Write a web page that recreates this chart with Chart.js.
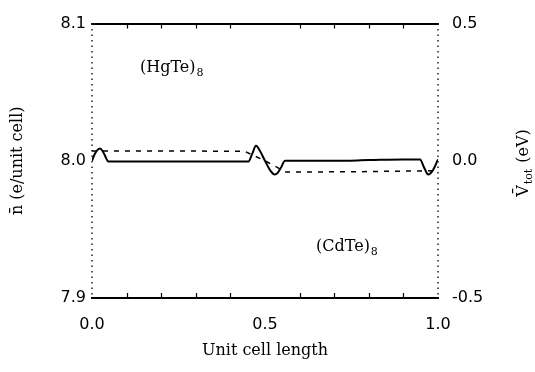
<!DOCTYPE html>
<html>
<head>
<meta charset="utf-8">
<script src="https://cdn.jsdelivr.net/npm/chart.js@4.4.1/dist/chart.umd.min.js"></script>
<style>
body { margin:0; background:#fff; }
#wrap { width:535px; height:372px; }
</style>
</head>
<body>
<div id="wrap"><canvas id="superChart" width="535" height="372"></canvas></div>
<script>
/* average charge n (left axis) */
const nX = [0, 0.008, 0.016, 0.023, 0.031, 0.039, 0.047, 0.1, 0.2, 0.3, 0.4, 0.452, 0.463, 0.474, 0.486, 0.5, 0.515, 0.528, 0.536, 0.546, 0.558, 0.6, 0.7, 0.8, 0.9, 0.948, 0.96, 0.972, 0.985, 1.0];
const nY = [8.0, 8.005, 8.008, 8.009, 8.007, 8.003, 7.9995, 7.9995, 7.9995, 7.9995, 7.9995, 7.9995, 8.005, 8.011, 8.007, 8.0, 7.993, 7.99, 7.991, 7.995, 8.0, 8.0, 8.0, 8.0005, 8.001, 8.001, 7.995, 7.99, 7.993, 8.001];
/* average potential V tot (right axis, eV) */
const vX = [0, 0.44, 0.5, 0.56, 0.75, 1.0];
const vY = [0.036, 0.035, 0.0, -0.041, -0.04, -0.036];

const xTicks = [0, 0.5, 1.0];
const xMinor = [0.1, 0.2, 0.3, 0.4, 0.6, 0.7, 0.8, 0.9];
const nTicks = [7.9, 8.0, 8.1];
const vTicks = [-0.5, 0.0, 0.5];

const serif = "'DejaVu Serif', serif";
const sans = "'DejaVu Sans', sans-serif";

// dotted side frame, inward minor ticks on top / bottom, text bits
const extras = {
    id: 'extras',
    afterDraw(chart) {
        const ctx = chart.ctx;
        const a = chart.chartArea;
        const xs = chart.scales.x;
        ctx.save();
        ctx.strokeStyle = '#222';
        ctx.lineWidth = 1.5;
        ctx.setLineDash([1.5, 4]);
        ctx.beginPath();
        ctx.moveTo(a.left, a.top); ctx.lineTo(a.left, a.bottom);
        ctx.moveTo(a.right, a.top); ctx.lineTo(a.right, a.bottom);
        ctx.stroke();
        ctx.setLineDash([]);

        ctx.strokeStyle = '#000';
        ctx.lineWidth = 1.2;
        xMinor.forEach(v => {
            const px = Math.round(xs.getPixelForValue(v)) + 0.5;
            ctx.beginPath();
            ctx.moveTo(px, a.bottom); ctx.lineTo(px, a.bottom - 5);
            ctx.moveTo(px, a.top); ctx.lineTo(px, a.top + 5);
            ctx.stroke();
        });

        ctx.fillStyle = '#000';
        ctx.textBaseline = 'alphabetic';
        // (HgTe)8 and (CdTe)8
        const label = (txt, sub, x, y) => {
            ctx.font = '16px ' + serif;
            ctx.fillText(txt, x, y);
            const w = ctx.measureText(txt).width;
            ctx.font = '11px ' + serif;
            ctx.fillText(sub, x + w + 1, y + 4);
        };
        label('(HgTe)', '8', 140, 72);
        label('(CdTe)', '8', 316, 251);

        // right axis title, bottom-to-top
        ctx.translate(528, 163);
        ctx.rotate(-Math.PI / 2);
        const t1 = 'V\u0304';
        const t2 = 'tot';
        const t3 = ' (eV)';
        ctx.font = '11px ' + serif;
        const w2 = ctx.measureText(t2).width;
        ctx.font = '16px ' + serif;
        const w1 = ctx.measureText(t1).width;
        const w3 = ctx.measureText(t3).width;
        let x0 = -(w1 + w2 + w3 + 2) / 2;
        ctx.fillText(t1, x0, 0);
        ctx.font = '11px ' + serif;
        ctx.fillText(t2, x0 + w1 + 1, 4);
        ctx.font = '16px ' + serif;
        ctx.fillText(t3, x0 + w1 + w2 + 2, 0);
        ctx.restore();
    }
};

const solid = { display: true, color: '#000', width: 2 };

let ctxSuper = document.getElementById('superChart').getContext('2d');
let superChart = new Chart(ctxSuper, {
    type: 'line',
    data: {
        datasets: [{
            label: 'n',
            data: nX.map((x, i) => ({x: x, y: nY[i]})),
            yAxisID: 'y',
            borderColor: '#000',
            borderWidth: 2,
            pointRadius: 0,
            cubicInterpolationMode: 'monotone'
        }, {
            label: 'Vtot',
            data: vX.map((x, i) => ({x: x, y: vY[i]})),
            yAxisID: 'y2',
            borderColor: '#000',
            borderWidth: 1.5,
            borderDash: [5, 6],
            pointRadius: 0,
            tension: 0
        }]
    },
    options: {
        responsive: false,
        animation: false,
        layout: { padding: 0 },
        plugins: { legend: { display: false }, tooltip: { enabled: false } },
        scales: {
            x: {
                type: 'linear',
                position: 'bottom',
                min: 0, max: 1,
                afterBuildTicks: s => { s.ticks = xTicks.map(v => ({value: v})); },
                afterFit: s => { s.height = 74; },
                ticks: {
                    callback: v => v.toFixed(1),
                    color: '#000',
                    padding: 17,
                    maxRotation: 0,
                    font: { family: sans, size: 16 }
                },
                grid: { drawOnChartArea: false, drawTicks: false },
                border: solid,
                title: {
                    display: true,
                    text: 'Unit cell length',
                    color: '#000',
                    padding: { top: 0, bottom: 12 },
                    font: { family: serif, size: 16 }
                }
            },
            x2: {
                type: 'linear',
                position: 'top',
                min: 0, max: 1,
                afterFit: s => { s.height = 19; },
                ticks: { display: false },
                grid: { drawOnChartArea: false, drawTicks: false },
                border: solid
            },
            y: {
                type: 'linear',
                position: 'left',
                min: 7.9, max: 8.1,
                afterBuildTicks: s => { s.ticks = nTicks.map(v => ({value: v})); },
                afterFit: s => { s.width = 92; },
                ticks: {
                    callback: v => v.toFixed(1),
                    color: '#000',
                    padding: 6,
                    font: { family: sans, size: 16 }
                },
                grid: { drawOnChartArea: false, drawTicks: false },
                border: { display: false },
                title: {
                    display: true,
                    text: 'n\u0304 (e/unit cell)',
                    color: '#000',
                    padding: { top: 8, bottom: 0 },
                    font: { family: serif, size: 16 }
                }
            },
            y2: {
                type: 'linear',
                position: 'right',
                min: -0.5, max: 0.5,
                afterBuildTicks: s => { s.ticks = vTicks.map(v => ({value: v})); },
                afterFit: s => { s.width = 97; },
                ticks: {
                    callback: v => v.toFixed(1),
                    color: '#000',
                    padding: 14,
                    font: { family: sans, size: 16 }
                },
                grid: { drawOnChartArea: false, drawTicks: false },
                border: { display: false }
            }
        }
    },
    plugins: [extras]
});
</script>
</body>
</html>
